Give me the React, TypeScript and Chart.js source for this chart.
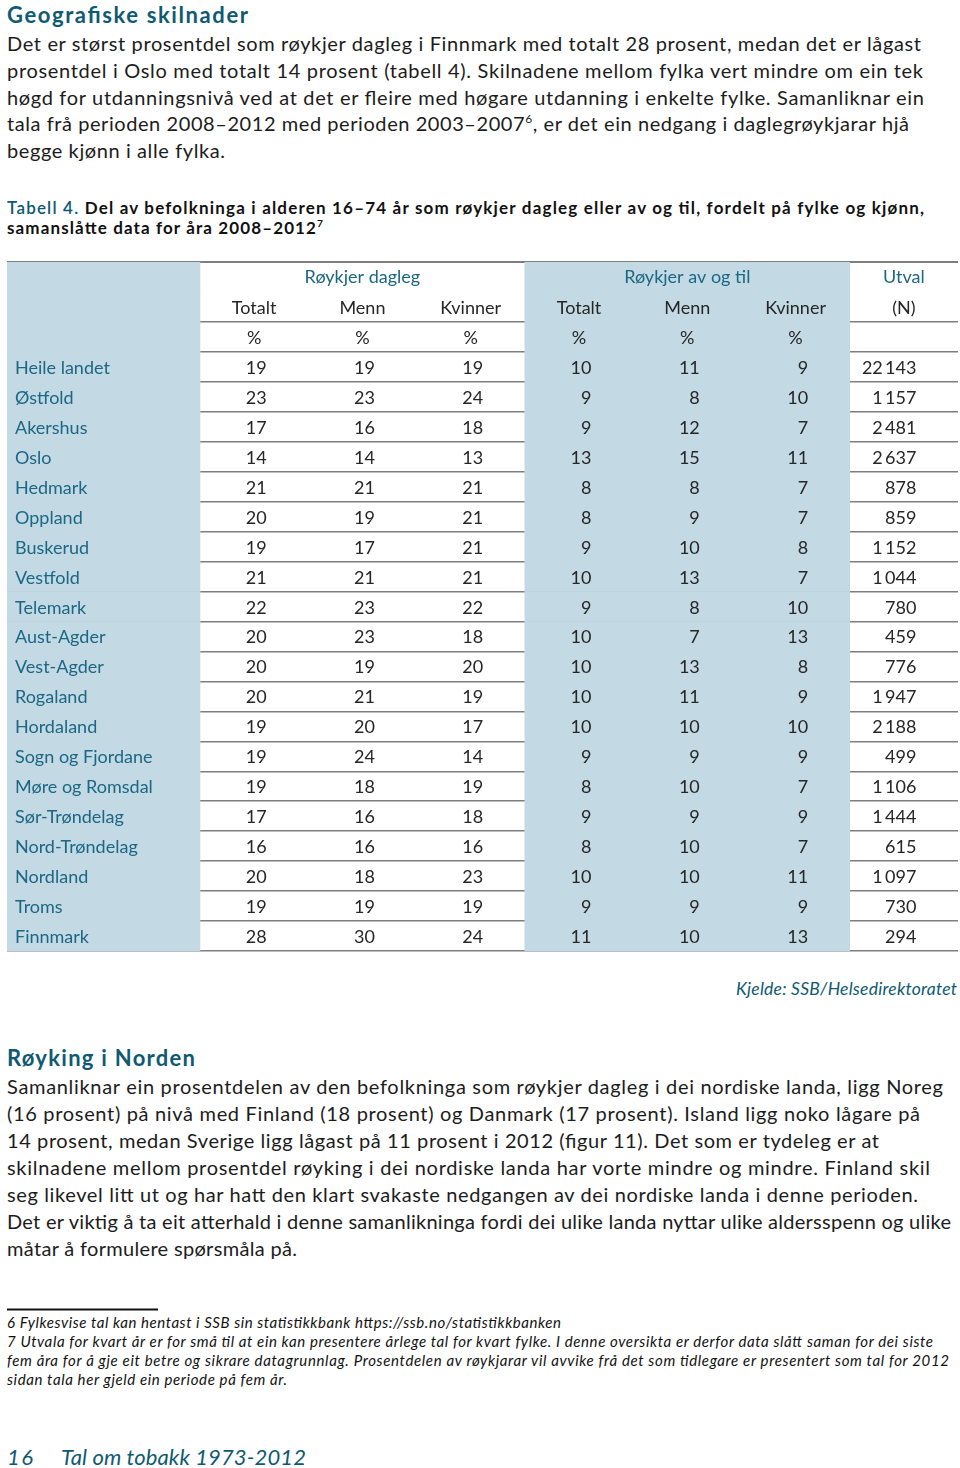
import React, { useEffect, useRef } from 'react';
import { Chart, registerables } from 'chart.js';

Chart.register(...registerables);

// ---------- data ----------
const REGIONS = [
  'Heile landet', 'Østfold', 'Akershus', 'Oslo', 'Hedmark', 'Oppland', 'Buskerud', 'Vestfold',
  'Telemark', 'Aust-Agder', 'Vest-Agder', 'Rogaland', 'Hordaland', 'Sogn og Fjordane',
  'Møre og Romsdal', 'Sør-Trøndelag', 'Nord-Trøndelag', 'Nordland', 'Troms', 'Finnmark',
];
const DAILY_TOTAL = [19, 23, 17, 14, 21, 20, 19, 21, 22, 20, 20, 20, 19, 19, 19, 17, 16, 20, 19, 28];
const DAILY_MEN = [19, 23, 16, 14, 21, 19, 17, 21, 23, 23, 19, 21, 20, 24, 18, 16, 16, 18, 19, 30];
const DAILY_WOMEN = [19, 24, 18, 13, 21, 21, 21, 21, 22, 18, 20, 19, 17, 14, 19, 18, 16, 23, 19, 24];
const OCC_TOTAL = [10, 9, 9, 13, 8, 8, 9, 10, 9, 10, 10, 10, 10, 9, 8, 9, 8, 10, 9, 11];
const OCC_MEN = [11, 8, 12, 15, 8, 9, 10, 13, 8, 7, 13, 11, 10, 9, 10, 9, 10, 10, 9, 10];
const OCC_WOMEN = [9, 10, 7, 11, 7, 7, 8, 7, 10, 13, 8, 9, 10, 9, 7, 9, 7, 11, 9, 13];
const SAMPLE_N = [22143, 1157, 2481, 2637, 878, 859, 1152, 1044, 780, 459, 776, 1947, 2188, 499, 1106, 1444, 615, 1097, 730, 294];

const GROUP_HEADERS = ['Røykjer dagleg', 'Røykjer av og til', 'Utval'];
const SUB_HEADERS = ['Totalt', 'Menn', 'Kvinner', 'Totalt', 'Menn', 'Kvinner', '(N)'];
const UNIT_LABEL = '%';
const HEADER_ROWS = ['hdr-group', 'hdr-sub', 'hdr-unit'];

const HEADING_1 = 'Geografiske skilnader';
const PARA_1 = [
  'Det er størst prosentdel som røykjer dagleg i Finnmark med totalt 28 prosent, medan det er lågast',
  'prosentdel i Oslo med totalt 14 prosent (tabell 4). Skilnadene mellom fylka vert mindre om ein tek',
  'høgd for utdanningsnivå ved at det er fleire med høgare utdanning i enkelte fylke. Samanliknar ein',
  'tala frå perioden 2008–2012 med perioden 2003–2007^6, er det ein nedgang i daglegrøykjarar hjå',
  'begge kjønn i alle fylka.',
];
const CAPTION_LEAD = 'Tabell 4.';
const CAPTION_LINES = [
  ' Del av befolkninga i alderen 16–74 år som røykjer dagleg eller av og til, fordelt på fylke og kjønn,',
  'samanslåtte data for åra 2008–2012^7',
];
const SOURCE = 'Kjelde: SSB/Helsedirektoratet';
const HEADING_2 = 'Røyking i Norden';
const PARA_2 = [
  'Samanliknar ein prosentdelen av den befolkninga som røykjer dagleg i dei nordiske landa, ligg Noreg',
  '(16 prosent) på nivå med Finland (18 prosent) og Danmark (17 prosent). Island ligg noko lågare på',
  '14 prosent, medan Sverige ligg lågast på 11 prosent i 2012 (figur 11). Det som er tydeleg er at',
  'skilnadene mellom prosentdel røyking i dei nordiske landa har vorte mindre og mindre. Finland skil',
  'seg likevel litt ut og har hatt den klart svakaste nedgangen av dei nordiske landa i denne perioden.',
  'Det er viktig å ta eit atterhald i denne samanlikninga fordi dei ulike landa nyttar ulike aldersspenn og ulike',
  'måtar å formulere spørsmåla på.',
];
const FOOTNOTES = [
  '6 Fylkesvise tal kan hentast i SSB sin statistikkbank https://ssb.no/statistikkbanken',
  '7 Utvala for kvart år er for små til at ein kan presentere årlege tal for kvart fylke. I denne oversikta er derfor data slått saman for dei siste',
  'fem åra for å gje eit betre og sikrare datagrunnlag. Prosentdelen av røykjarar vil avvike frå det som tidlegare er presentert som tal for 2012',
  'sidan tala her gjeld ein periode på fem år.',
];
const PAGE_NO = '16';
const FOOTER_TITLE = 'Tal om tobakk 1973-2012';

// ---------- layout / style ----------
const PARA_1_RIGHT = [921, 923, 924, 909, 225];
const PARA_2_RIGHT = [943, 920, 879, 930, 918, 951, 297];
const FOOTNOTE_RIGHT = [561, 933, 949, 287];

const FONT = 'Lato, "Open Sans", sans-serif';
const TEAL = '#0f5a72';
const LABEL_TEAL = '#1b6784';
const INK = '#1c1c1c';
const CELL_INK = '#262626';
const SHADE = '#c3d9e3';
const RULE = '#7e7e7e';
const LABEL_SPAN = 1.782; // width of label column in units of a data column

function rich(str: string, size: number) {
  const parts = str.split(/\^(\d)/);
  if (parts.length === 1) return str;
  return [
    <tspan key="a">{parts[0]}</tspan>,
    <tspan key="b" dy={-size * 0.4} fontSize={size * 0.6}>{parts[1]}</tspan>,
    <tspan key="c" dy={size * 0.4}>{parts[2]}</tspan>,
  ];
}

function Line(props: any) {
  const { x = 7, y, right, size, weight = 400, italic = false, color = INK, anchor = 'start', children } = props;
  const extra: any = {};
  if (right !== undefined) {
    extra.textLength = right - x;
    extra.lengthAdjust = 'spacing';
  }
  return (
    <text
      x={x}
      y={y}
      fontFamily={FONT}
      fontSize={size}
      fontWeight={weight}
      fontStyle={italic ? 'italic' : 'normal'}
      fill={color}
      textAnchor={anchor}
      style={{ whiteSpace: 'pre' }}
      {...extra}
    >
      {children}
    </text>
  );
}

function SmokingTable() {
  const ref = useRef<HTMLCanvasElement>(null);

  useEffect(() => {
    const rowKeys = [...HEADER_ROWS, ...REGIONS];
    const columns = [DAILY_TOTAL, DAILY_MEN, DAILY_WOMEN, OCC_TOTAL, OCC_MEN, OCC_WOMEN];
    const nHeader = HEADER_ROWS.length;
    const fmtN = (v: number) => String(v).replace(/\B(?=(\d{3})+(?!\d))/g, '\u2009');

    const cellText = {
      id: 'cellText',
      afterDraw(chart: any) {
        const { ctx } = chart;
        const x = chart.scales.x;
        const y = chart.scales.y;
        const colC = (c: number) => x.getPixelForValue(c + 0.5);
        const base = (r: number) => y.getPixelForValue(r) + (r === 0 ? 6 : 7);
        ctx.save();
        ctx.textBaseline = 'alphabetic';
        ctx.font = `18px ${FONT}`;

        // group headers
        ctx.fillStyle = LABEL_TEAL;
        ctx.textAlign = 'center';
        ctx.fillText(GROUP_HEADERS[0], x.getPixelForValue(1.5), base(0));
        ctx.fillText(GROUP_HEADERS[1], x.getPixelForValue(4.5), base(0));
        ctx.fillText(GROUP_HEADERS[2], colC(6), base(0));

        // sub headers
        ctx.fillStyle = CELL_INK;
        SUB_HEADERS.forEach((s, c) => ctx.fillText(s, colC(c), base(1)));
        // units
        for (let c = 0; c < columns.length; c++) ctx.fillText(UNIT_LABEL, colC(c), base(2));

        // region labels
        ctx.textAlign = 'left';
        ctx.fillStyle = LABEL_TEAL;
        const labelX = x.getPixelForValue(-LABEL_SPAN) + 8;
        REGIONS.forEach((r, i) => ctx.fillText(r, labelX, base(i + nHeader)));

        // values
        ctx.textAlign = 'right';
        ctx.fillStyle = CELL_INK;
        REGIONS.forEach((_, i) => {
          const yy = base(i + nHeader);
          columns.forEach((col, c) => ctx.fillText(String(col[i]), colC(c) + 12.5, yy));
          ctx.fillText(fmtN(SAMPLE_N[i]), colC(6) + 12.5, yy);
        });
        ctx.restore();
      },
    };

    const lastLine = rowKeys.length;
    const chart = new Chart(ref.current as HTMLCanvasElement, {
      type: 'bar',
      data: {
        labels: rowKeys,
        datasets: [
          {
            data: rowKeys.map(() => [-LABEL_SPAN, 0]) as any,
            backgroundColor: SHADE,
            borderWidth: 0,
            barPercentage: 1,
            categoryPercentage: 1,
          },
          {
            data: rowKeys.map(() => [3, 6]) as any,
            backgroundColor: SHADE,
            borderWidth: 0,
            barPercentage: 1,
            categoryPercentage: 1,
          },
        ],
      },
      options: {
        indexAxis: 'y',
        animation: false,
        responsive: false,
        devicePixelRatio: 1,
        layout: { padding: { top: 1, bottom: 1, left: 0, right: 0 } },
        plugins: { legend: { display: false }, tooltip: { enabled: false } },
        datasets: { bar: { grouped: false } } as any,
        scales: {
          x: { type: 'linear', min: -LABEL_SPAN, max: 7, display: false },
          y: {
            type: 'category',
            offset: true,
            z: 1,
            ticks: { display: false },
            border: { display: false },
            grid: {
              offset: true,
              drawTicks: false,
              color: (c: any) => (c.index === 1 ? 'rgba(0,0,0,0)' : RULE),
              lineWidth: (c: any) => (c.index === 0 || c.index === lastLine ? 2 : 1.5),
            },
          },
        },
      },
      plugins: [cellText],
    } as any);
    return () => chart.destroy();
  }, []);

  return (
    <canvas
      ref={ref}
      width={951}
      height={691}
      style={{ position: 'absolute', left: 7, top: 261, width: 951, height: 691 }}
    />
  );
}

export default function App() {
  const P1_BASE = 51;
  const P1_STEP = 26.8;
  const P2_BASE = 1094;
  const P2_STEP = 27;
  const FN_BASE = 1328;
  const FN_STEP = 19;
  return (
    <div style={{ position: 'absolute', left: 0, top: 0, width: 960, height: 1468, background: '#fff', overflow: 'hidden' }}>
      <svg width={960} height={1468} style={{ position: 'absolute', left: 0, top: 0 }}>
        <Line y={22.5} right={248} size={22} weight={700} color={TEAL}>{HEADING_1}</Line>
        {PARA_1.map((t, i) => (
          <Line key={'p1' + i} y={P1_BASE + i * P1_STEP} right={PARA_1_RIGHT[i]} size={20}>{rich(t, 20)}</Line>
        ))}
        <Line y={213.5} right={924} size={17} weight={700} color="#111">
          <tspan fill={TEAL} fontWeight={600}>{CAPTION_LEAD}</tspan>
          {CAPTION_LINES[0]}
        </Line>
        <Line y={233.5} right={323} size={17} weight={700} color="#111">{rich(CAPTION_LINES[1], 17)}</Line>

        <Line x={736} y={995} right={957} size={17.5} italic color={TEAL}>{SOURCE}</Line>

        <Line y={1066} right={195} size={22} weight={700} color={TEAL}>{HEADING_2}</Line>
        {PARA_2.map((t, i) => (
          <Line key={'p2' + i} y={P2_BASE + i * P2_STEP} right={PARA_2_RIGHT[i]} size={20}>{t}</Line>
        ))}

        <rect x={7} y={1308.5} width={151} height={2} fill="#111" />
        {FOOTNOTES.map((t, i) => (
          <Line key={'fn' + i} y={FN_BASE + i * FN_STEP} right={FOOTNOTE_RIGHT[i]} size={15} italic color="#111">{t}</Line>
        ))}

        <Line y={1465} right={33} size={22} italic color={TEAL}>{PAGE_NO}</Line>
        <Line x={61} y={1465} right={306} size={22} italic color={TEAL}>{FOOTER_TITLE}</Line>
      </svg>
      <SmokingTable />
    </div>
  );
}
